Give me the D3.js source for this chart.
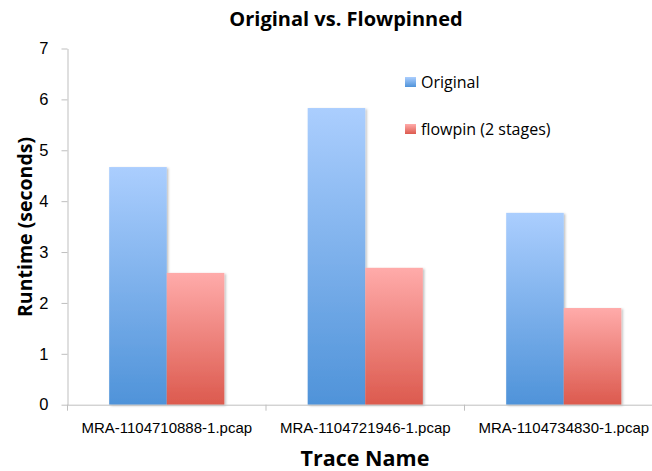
<!DOCTYPE html>
<html>
<head>
<meta charset="utf-8">
<script src="https://cdn.jsdelivr.net/npm/d3@7"></script>
<style>
  body { margin: 0; background: #fff; }
  svg { display: block; font-family: "Open Sans", "Noto Sans", sans-serif; }
  .axis path, .axis line { stroke: #bfbfbf; }
  .axis text { fill: #000; }
</style>
</head>
<body>
<div id="chart"></div>
<script>
const width = 652;
const height = 471;

const traces = ['MRA-1104710888-1.pcap', 'MRA-1104721946-1.pcap', 'MRA-1104734830-1.pcap'];
const seriesNames = ['Original', 'flowpin (2 stages)'];
const original = [4.67, 5.83, 3.77];
const flowpin = [2.59, 2.69, 1.90];
const yTicks = [0, 1, 2, 3, 4, 5, 6, 7];

const margin = {top: 48.5, left: 67.5, bottom: 66.3};
const plotRight = 663;
const outerPad = 0.21;

const rows = traces.map((t, i) => ({trace: t, values: [original[i], flowpin[i]]}));

const svg = d3.select('#chart').append('svg')
  .attr('width', width)
  .attr('height', height);

const defs = svg.append('defs');

// vertical gradients, light at top, deeper at bottom
const grads = [
  {id: 'g-blue', top: '#abcefe', bottom: '#4f93d9'},
  {id: 'g-red', top: '#ffabaa', bottom: '#dc5a4e'}
];
grads.forEach(g => {
  const lg = defs.append('linearGradient')
    .attr('id', g.id)
    .attr('x1', 0).attr('y1', 0).attr('x2', 0).attr('y2', 1);
  lg.append('stop').attr('offset', '0%').attr('stop-color', g.top);
  lg.append('stop').attr('offset', '100%').attr('stop-color', g.bottom);
});

defs.append('filter')
  .attr('id', 'shadow')
  .attr('x', '-10%').attr('y', '-10%').attr('width', '130%').attr('height', '120%')
  .append('feDropShadow')
  .attr('dx', 1.5).attr('dy', 1)
  .attr('stdDeviation', 1)
  .attr('flood-color', '#000')
  .attr('flood-opacity', 0.25);

const x0 = d3.scaleBand()
  .domain(traces)
  .range([margin.left, plotRight])
  .paddingInner(outerPad * 2)
  .paddingOuter(outerPad);

const x1 = d3.scaleBand()
  .domain(seriesNames)
  .range([0, x0.bandwidth()]);

const y = d3.scaleLinear()
  .domain([0, 7])
  .range([height - margin.bottom, margin.top]);

const color = d3.scaleOrdinal()
  .domain(seriesNames)
  .range(['url(#g-blue)', 'url(#g-red)']);

// bars
const group = svg.selectAll('.chart-group')
  .data(rows)
  .enter()
  .append('g')
    .classed('chart-group', true)
    .attr('transform', d => `translate(${x0(d.trace)},0)`);

group.selectAll('rect')
  .data(d => d.values.map((v, i) => ({key: seriesNames[i], value: v})))
  .enter()
  .append('rect')
    .attr('x', d => x1(d.key))
    .attr('y', d => y(d.value))
    .attr('width', x1.bandwidth())
    .attr('height', d => y(0) - y(d.value))
    .attr('fill', d => color(d.key))
    .attr('filter', 'url(#shadow)');

// y axis
const yAxis = svg.append('g')
  .attr('class', 'axis')
  .attr('transform', `translate(${margin.left},0)`)
  .call(d3.axisLeft(y).tickValues(yTicks).tickFormat(d3.format('d'))
    .tickSize(6).tickSizeOuter(0).tickPadding(13));
yAxis.selectAll('text').style('font-size', '16.5px');

// x axis: labels at band centres, tick marks at band boundaries
const xAxis = svg.append('g')
  .attr('class', 'axis')
  .attr('transform', `translate(0,${y(0)})`)
  .call(d3.axisBottom(x0).tickSize(0).tickSizeOuter(0).tickPadding(17.5));
xAxis.select('.domain').attr('d', `M${margin.left},0.5H${width}`);
xAxis.selectAll('text').style('font-size', '15px');

const bounds = traces.map(t => x0(t) - x0.step() * outerPad);
xAxis.selectAll('.bound')
  .data(bounds)
  .enter()
  .append('line')
    .attr('class', 'bound')
    .attr('x1', d => d).attr('x2', d => d)
    .attr('y1', 0).attr('y2', 6)
    .attr('stroke', '#bfbfbf');

// titles
svg.append('text')
  .attr('x', 346)
  .attr('y', 26)
  .attr('text-anchor', 'middle')
  .style('font-weight', 'bold')
  .style('font-size', '20px')
  .text('Original vs. Flowpinned');

svg.append('text')
  .attr('x', 365)
  .attr('y', 466)
  .attr('text-anchor', 'middle')
  .style('font-weight', 'bold')
  .style('font-size', '21.5px')
  .text('Trace Name');

svg.append('text')
  .attr('transform', `translate(32,227) rotate(-90)`)
  .attr('text-anchor', 'middle')
  .style('font-weight', 'bold')
  .style('font-size', '19.5px')
  .text('Runtime (seconds)');

// legend
const legend = svg.selectAll('.legend')
  .data(seriesNames)
  .enter()
  .append('g')
    .attr('class', 'legend')
    .attr('transform', (d, i) => `translate(405,${77 + i * 47})`);

legend.append('rect')
  .attr('width', 11)
  .attr('height', 10)
  .attr('fill', d => color(d));

legend.append('text')
  .attr('x', 16)
  .attr('y', 11)
  .style('font-size', '16px')
  .text(d => d);
</script>
</body>
</html>
